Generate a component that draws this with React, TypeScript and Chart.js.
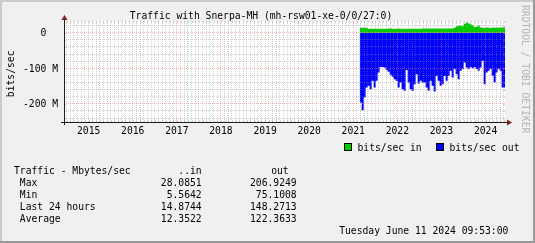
import { useEffect, useRef } from 'react';
import { Chart, registerables } from 'chart.js';

Chart.register(...registerables);

// ---- time range (decimal years) ----
const RANGE_START = 2014.441;
const RANGE_END = 2024.441;
const DATA_START = 2021.145;
const SAMPLE_STEP = 0.04535; // ~16.6 days per sample

// ---- series values (M bits/sec) ----
const inMbps = [
  14, 14, 14, 14, 13, 11, 11, 11, 11, 11,
  11, 11, 11, 11, 11, 12, 12, 11, 11, 11,
  12, 11, 11, 11, 11, 11, 11, 11, 11, 11,
  11, 11, 12, 12, 12, 12, 12, 12, 12, 12,
  12, 12, 12, 12, 12, 12, 12, 12, 14, 18,
  19, 20, 18, 25, 29, 27, 24, 21, 16, 17,
  21, 15, 14, 13, 15, 14, 13, 15, 14, 14,
  15, 14, 15,
];
const outMbps = [
  121, 196, 218, 182, 154, 149, 159, 135, 154, 135,
  112, 96, 96, 98, 105, 110, 118, 124, 131, 135,
  154, 140, 159, 163, 105, 140, 159, 163, 145, 117,
  143, 135, 140, 140, 154, 163, 135, 149, 165, 122,
  135, 149, 145, 122, 135, 122, 107, 126, 102, 117,
  131, 107, 102, 84, 98, 102, 96, 100, 96, 102,
  107, 98, 79, 145, 112, 107, 102, 121, 140, 112,
  102, 107, 154,
];

// ---- axes ----
const Y_MIN = -251; // M
const Y_MAX = 33; // M
const Y_MINOR_STEP = 20; // M
const Y_MAJOR_STEP = 100; // M

// ---- texts ----
const TITLE = 'Traffic with Snerpa-MH (mh-rsw01-xe-0/0/27:0)';
const Y_TITLE = 'bits/sec';
const seriesLabels = ['bits/sec in', 'bits/sec out'];
const seriesColors = ['#00cc00', '#0000ff'];
const statHeader = ['Traffic - Mbytes/sec', '..in', 'out'];
const statRows = [' Max', ' Min', ' Last 24 hours', ' Average'];
const statIn = ['28.0851', '5.5642', '14.8744', '12.3522'];
const statOut = ['206.9249', '75.1008', '148.2713', '122.3633'];
const DATE_TEXT = 'Tuesday June 11 2024 09:53:00';
const WATERMARK = 'RRDTOOL / TOBI OETIKER';

const FAMILY = '"DejaVu Sans Mono", monospace';
const FSIZE = 9.7;
const FONT = `${FSIZE}px ${FAMILY}`;

const MINOR_COL = 'rgba(140,140,140,0.4)';
const MAJOR_COL = 'rgba(245,120,120,0.55)';

function buildPoints(vals: number[], sign: number) {
  const pts = vals.map((v, i) => ({ x: DATA_START + i * SAMPLE_STEP, y: sign * v * 1e6 }));
  pts.push({ x: RANGE_END, y: sign * vals[vals.length - 1] * 1e6 });
  return pts;
}

const isYear = (v: number) => Math.round(v * 12) % 12 === 0;
const isMajorY = (v: number) => Math.round(v / 1e6) % Y_MAJOR_STEP === 0;

const rrdPlugin = {
  id: 'rrd',
  beforeDraw(chart: any) {
    const { ctx, width, height, chartArea: a } = chart;
    ctx.save();
    ctx.fillStyle = '#f0f0f0';
    ctx.fillRect(0, 0, width, height);
    ctx.fillStyle = '#cbcbcb';
    ctx.fillRect(0, 0, width, 2);
    ctx.fillRect(0, 0, 2, height);
    ctx.fillStyle = '#999999';
    ctx.fillRect(0, height - 2, width, 2);
    ctx.fillRect(width - 2, 0, 2, height);
    ctx.fillStyle = '#ffffff';
    ctx.fillRect(a.left, a.top, a.right - a.left, a.bottom - a.top);
    ctx.restore();
  },
  afterDraw(chart: any) {
    const { ctx, chartArea: a, scales } = chart;
    ctx.save();
    const xs = scales.x;
    xs.ticks.forEach((t: any) => {
      const px = Math.round(xs.getPixelForValue(t.value));
      ctx.fillStyle = isYear(t.value) ? MAJOR_COL : MINOR_COL;
      ctx.fillRect(px, a.top, 1, 2);
      ctx.fillRect(px, a.bottom - 2, 1, 2);
    });
    const ys = scales.y;
    ys.ticks.forEach((t: any) => {
      const py = Math.round(ys.getPixelForValue(t.value));
      ctx.fillStyle = isMajorY(t.value) ? MAJOR_COL : MINOR_COL;
      ctx.fillRect(a.left, py, 2, 1);
      ctx.fillRect(a.right - 2, py, 2, 1);
    });
    ctx.fillStyle = '#1f1f1f';
    ctx.fillRect(a.left - 3, a.bottom, a.right - a.left + 6, 1);
    ctx.fillRect(a.left, a.top - 3, 1, a.bottom - a.top + 6);
    ctx.fillStyle = '#7f1f1f';
    ctx.beginPath();
    ctx.moveTo(a.left + 0.5, a.top - 6);
    ctx.lineTo(a.left - 2.5, a.top - 1);
    ctx.lineTo(a.left + 3.5, a.top - 1);
    ctx.closePath();
    ctx.fill();
    ctx.beginPath();
    ctx.moveTo(a.right + 7, a.bottom + 0.5);
    ctx.lineTo(a.right + 2, a.bottom - 2.5);
    ctx.lineTo(a.right + 2, a.bottom + 3.5);
    ctx.closePath();
    ctx.fill();

    ctx.font = FONT;
    ctx.fillStyle = '#000';
    ctx.textBaseline = 'alphabetic';
    ctx.textAlign = 'center';
    ctx.fillText(TITLE, 261, 18.8);
    ctx.save();
    ctx.translate(14, 73.8);
    ctx.rotate(-Math.PI / 2);
    ctx.textAlign = 'center';
    ctx.fillText(Y_TITLE, 0, 0);
    ctx.restore();
    const ds = chart.data.datasets;
    const legendX = [344, 436];
    ds.forEach((d: any, i: number) => {
      const x = legendX[i];
      ctx.fillStyle = d.backgroundColor;
      ctx.fillRect(x, 143, 8, 8);
      ctx.strokeStyle = '#000';
      ctx.lineWidth = 1;
      ctx.strokeRect(x + 0.5, 143.5, 7, 7);
      ctx.fillStyle = '#000';
      ctx.textAlign = 'left';
      ctx.fillText(d.label, x + 13.5, 150.7);
    });
    const base = [174.4, 186.2, 198.0, 209.8, 221.6];
    ctx.textAlign = 'left';
    ctx.fillText(statHeader[0], 14, base[0]);
    ctx.textAlign = 'right';
    ctx.fillText(statHeader[1], 201.7, base[0]);
    ctx.fillText(statHeader[2], 288.7, base[0]);
    statRows.forEach((r, i) => {
      ctx.textAlign = 'left';
      ctx.fillText(r, 14, base[i + 1]);
      ctx.textAlign = 'right';
      ctx.fillText(statIn[i], 201.7, base[i + 1]);
      ctx.fillText(statOut[i], 296.7, base[i + 1]);
    });
    ctx.fillText(DATE_TEXT, 508.3, 233.8);
    ctx.save();
    ctx.translate(529, 5);
    ctx.rotate(Math.PI / 2);
    ctx.textAlign = 'left';
    ctx.textBaseline = 'top';
    ctx.fillStyle = '#b4b4b4';
    ctx.fillText(WATERMARK, 0, 0);
    ctx.restore();
    ctx.restore();
  },
};

export default function App() {
  const ref = useRef<HTMLCanvasElement>(null);
  useEffect(() => {
    if (!ref.current) return;
    const chart = new Chart(ref.current, {
      type: 'line',
      data: {
        datasets: [
          {
            label: seriesLabels[0],
            data: buildPoints(inMbps, 1),
            backgroundColor: seriesColors[0],
            borderColor: 'transparent',
            borderWidth: 0,
            pointRadius: 0,
            stepped: 'after',
            fill: 'origin',
          },
          {
            label: seriesLabels[1],
            data: buildPoints(outMbps, -1),
            backgroundColor: seriesColors[1],
            borderColor: 'transparent',
            borderWidth: 0,
            pointRadius: 0,
            stepped: 'after',
            fill: 'origin',
          },
        ],
      } as any,
      options: {
        animation: false,
        responsive: false,
        devicePixelRatio: 1,
        events: [],
        layout: { padding: { left: 0, right: 30, top: 21, bottom: 101 } },
        scales: {
          x: {
            type: 'linear',
            min: RANGE_START,
            max: RANGE_END,
            afterBuildTicks: (scale: any) => {
              const ticks = [];
              for (let m = Math.ceil(RANGE_START * 12); m <= Math.floor(RANGE_END * 12); m++) {
                ticks.push({ value: m / 12 });
              }
              scale.ticks = ticks;
            },
            afterFit: (scale: any) => {
              scale.height = 20;
            },
            grid: {
              z: 1,
              drawTicks: false,
              color: (c: any) => (isYear(c.tick.value) ? MAJOR_COL : MINOR_COL),
            },
            border: { display: false, dash: [1, 1] },
            ticks: {
              autoSkip: false,
              maxRotation: 0,
              minRotation: 0,
              padding: 4,
              color: '#000',
              font: { family: FAMILY, size: FSIZE },
              callback: (v: any) => {
                const m = Math.round(Number(v) * 12);
                return m % 12 === 0 ? String(m / 12) : '';
              },
            },
          },
          y: {
            type: 'linear',
            min: Y_MIN * 1e6,
            max: Y_MAX * 1e6,
            afterBuildTicks: (scale: any) => {
              const ticks = [];
              for (let k = Math.ceil(Y_MIN / Y_MINOR_STEP); k <= Math.floor(Y_MAX / Y_MINOR_STEP); k++) {
                ticks.push({ value: k * Y_MINOR_STEP * 1e6 });
              }
              scale.ticks = ticks;
            },
            afterFit: (scale: any) => {
              scale.width = 64;
            },
            grid: {
              z: 1,
              drawTicks: false,
              color: (c: any) => (isMajorY(c.tick.value) ? MAJOR_COL : MINOR_COL),
            },
            border: { display: false, dash: [1, 1] },
            ticks: {
              autoSkip: false,
              padding: 6,
              labelOffset: 1,
              color: '#000',
              font: { family: FAMILY, size: FSIZE },
              callback: (v: any) => {
                const n = Number(v);
                if (!isMajorY(n)) return '';
                const mv = Math.round(n / 1e6);
                return mv === 0 ? '0  ' : `${mv} M`;
              },
            },
          },
        },
        plugins: { legend: { display: false }, tooltip: { enabled: false } },
      } as any,
      plugins: [rrdPlugin],
    });
    return () => chart.destroy();
  }, []);
  return (
    <div style={{ position: 'absolute', left: 0, top: 0, width: 535, height: 243 }}>
      <canvas ref={ref} width={535} height={243} style={{ display: 'block', width: 535, height: 243 }} />
    </div>
  );
}
